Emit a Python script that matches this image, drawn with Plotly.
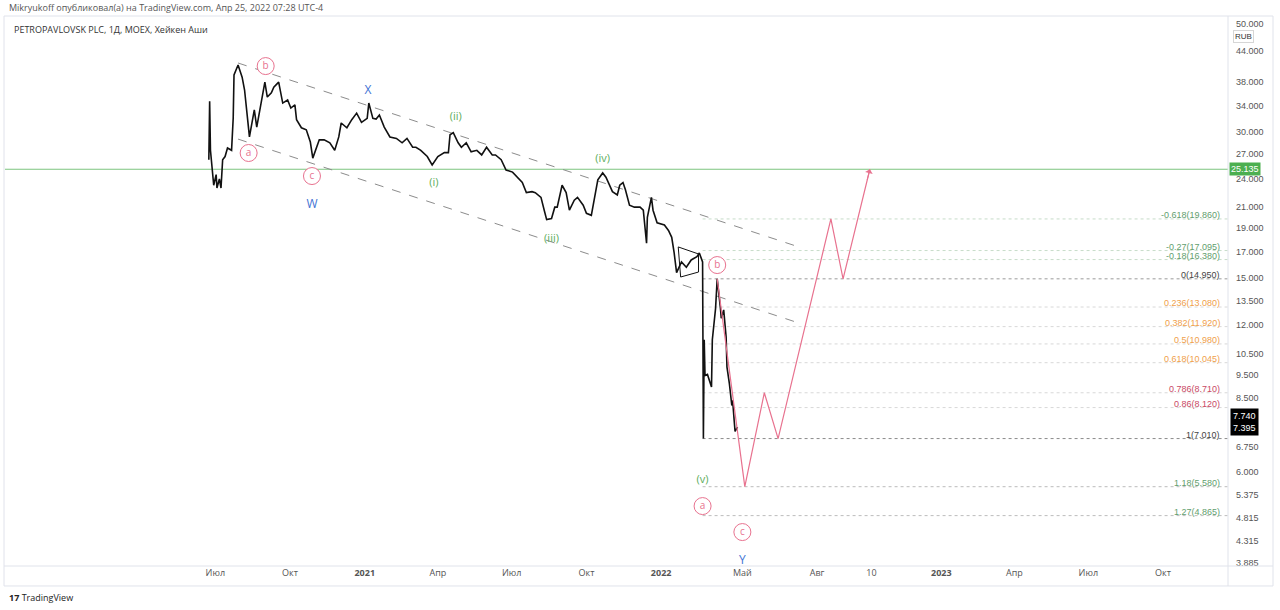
import math
import plotly.graph_objects as go

# ---------------- data ----------------
price_dates = [
    "2020-06-23", "2020-06-24", "2020-06-25", "2020-06-29", "2020-07-02", "2020-07-03", "2020-07-06",
    "2020-07-08", "2020-07-10", "2020-07-13", "2020-07-16", "2020-07-21", "2020-07-23", "2020-07-24",
    "2020-07-29", "2020-08-03", "2020-08-06", "2020-08-10", "2020-08-12", "2020-08-18", "2020-08-21",
    "2020-08-27", "2020-08-31", "2020-09-03", "2020-09-08", "2020-09-11", "2020-09-17", "2020-09-22",
    "2020-09-28", "2020-10-02", "2020-10-07", "2020-10-09", "2020-10-15", "2020-10-21", "2020-10-26",
    "2020-10-29", "2020-11-03", "2020-11-06", "2020-11-12", "2020-11-19", "2020-11-25", "2020-11-30",
    "2020-12-03", "2020-12-10", "2020-12-16", "2020-12-22", "2020-12-28", "2021-01-04", "2021-01-06",
    "2021-01-11", "2021-01-15", "2021-01-19", "2021-01-25", "2021-02-01", "2021-02-09", "2021-02-16",
    "2021-02-22", "2021-03-01", "2021-03-05", "2021-03-11", "2021-03-19", "2021-03-25", "2021-04-01",
    "2021-04-09", "2021-04-14", "2021-04-16", "2021-04-20", "2021-04-26", "2021-04-30", "2021-05-06",
    "2021-05-12", "2021-05-19", "2021-05-25", "2021-05-31", "2021-06-07", "2021-06-11", "2021-06-18",
    "2021-06-24", "2021-07-02", "2021-07-08", "2021-07-14", "2021-07-19", "2021-07-26", "2021-07-30",
    "2021-08-06", "2021-08-10", "2021-08-13", "2021-08-19", "2021-08-23", "2021-08-26", "2021-09-01",
    "2021-09-06", "2021-09-10", "2021-09-16", "2021-09-20", "2021-09-27", "2021-10-01", "2021-10-07",
    "2021-10-11", "2021-10-15", "2021-10-21", "2021-10-25", "2021-10-29", "2021-11-02", "2021-11-08",
    "2021-11-11", "2021-11-15", "2021-11-18", "2021-11-23", "2021-11-29", "2021-12-06", "2021-12-10",
    "2021-12-14", "2021-12-15", "2021-12-20", "2021-12-22", "2021-12-27", "2022-01-05", "2022-01-10",
    "2022-01-14", "2022-01-17", "2022-01-20", "2022-01-26", "2022-02-01", "2022-02-07", "2022-02-14",
    "2022-02-17", "2022-02-21", "2022-02-22", "2022-03-15", "2022-03-16", "2022-03-19", "2022-03-24",
    "2022-03-25", "2022-03-29", "2022-03-31", "2022-04-04", "2022-04-05", "2022-04-08", "2022-04-11",
    "2022-04-12", "2022-04-15", "2022-04-18", "2022-04-19", "2022-04-21", "2022-04-22", "2022-04-25",
]
price_close = [
    26.3, 34.7, 27.5, 23.3, 24.5, 23.0, 24.0,
    23.0, 26.3, 26.7, 27.8, 27.5, 32.0, 39.3,
    41.2, 38.9, 36.6, 32.0, 29.3, 33.3, 30.7,
    34.9, 38.0, 35.4, 36.1, 37.1, 38.0, 34.4,
    34.9, 33.6, 34.1, 31.8, 30.6, 30.3, 28.6,
    26.5, 27.9, 28.9, 28.9, 28.5, 27.5, 29.3,
    31.3, 30.6, 31.8, 32.8, 31.4, 32.0, 34.4,
    32.0, 31.9, 32.5, 30.7, 29.3, 29.1, 28.5,
    29.1, 27.9, 27.9, 27.5, 26.7, 25.65, 26.7,
    27.2, 27.2, 29.6, 29.9, 28.5, 27.9, 28.5,
    27.3, 27.5, 26.9, 27.9, 26.9, 26.9, 26.3,
    25.05, 24.8, 24.2, 23.6, 22.5, 22.6, 22.5,
    22.0, 20.7, 19.8, 19.9, 21.0, 21.0, 23.3,
    22.5, 20.7, 21.7, 22.0, 21.2, 20.4, 20.2,
    22.0, 23.9, 24.7, 24.2, 23.4, 22.6, 22.25,
    23.3, 23.6, 22.8, 21.2, 21.0, 21.0, 20.7,
    17.7, 20.0, 22.0, 20.7, 19.5, 19.3, 18.8,
    18.2, 16.9, 15.4, 16.2, 15.8, 16.35, 16.6,
    16.9, 16.2, 7.01, 11.2, 9.45, 9.5, 8.95,
    11.2, 13.0, 14.95, 13.0, 12.4, 12.9, 11.35,
    9.85, 9.1, 8.2, 8.4, 7.6, 7.25, 7.4,
]

# Fibonacci levels
fib_level_txt = ["-0.618", "-0.27", "-0.18", "0", "0.236", "0.382", "0.5", "0.618",
                 "0.786", "0.86", "1", "1.18", "1.27"]
fib_values = [19.86, 17.095, 16.38, 14.95, 13.08, 11.92, 10.98, 10.045, 8.71, 8.12, 7.01, 5.58, 4.865]
fib_start = "2022-02-21"
fib_end = "2023-12-20"

# channel (dashed)
chan_dates = ["2020-07-29", "2022-07-06"]
chan_upper = [41.6, 17.47]
chan_lower = [29.0, 12.18]

# projected path (pink)
proj_dates = ["2022-03-31", "2022-05-04", "2022-05-28", "2022-06-14", "2022-08-18", "2022-09-02", "2022-10-05"]
proj_vals = [14.95, 5.58, 8.71, 7.01, 19.86, 14.95, 25.135]

# horizontal level
level_line = 25.135

# triangle drawing
tri_dates = ["2022-01-22", "2022-02-16", "2022-02-16", "2022-01-25", "2022-01-22"]
tri_vals = [17.39, 16.82, 15.44, 15.08, 17.39]

# wave labels
circ_labels = ["a", "b", "c", "b", "a", "c"]
circ_dates = ["2020-08-11", "2020-09-01", "2020-10-28", "2022-03-31", "2022-02-21", "2022-05-01"]
circ_vals = [27.15, 41.0, 24.34, 15.96, 5.09, 4.50]

blue_labels = ["W", "X", "Y"]
blue_dates = ["2020-10-28", "2021-01-05", "2022-05-01"]
blue_vals = [21.2, 36.4, 3.92]

green_labels = ["(i)", "(ii)", "(iii)", "(iv)", "(v)"]
green_dates = ["2021-03-27", "2021-04-23", "2021-08-19", "2021-10-21", "2022-02-21"]
green_vals = [23.55, 32.2, 18.06, 26.39, 5.76]

last_prices = [7.740, 7.395]

y_ticks = [50, 44, 38, 34, 30, 27, 24, 21, 19, 17, 15, 13.5, 12, 10.5, 9.5, 8.5,
           6.75, 6.0, 5.375, 4.815, 4.315, 3.885]
x_tick_dates = ["2020-07-01", "2020-10-01", "2021-01-01", "2021-04-01", "2021-07-01", "2021-10-01",
                "2022-01-01", "2022-05-01", "2022-08-01", "2022-10-07", "2023-01-01", "2023-04-01",
                "2023-07-01", "2023-10-01"]
x_tick_text = ["Июл", "Окт", "<b>2021</b>", "Апр", "Июл", "Окт", "<b>2022</b>", "Май", "Авг", "10",
               "<b>2023</b>", "Апр", "Июл", "Окт"]

# ---------------- styling ----------------
FONT = "Open Sans"
AXF = "Liberation Sans, Arial, sans-serif"
PINK = "#e8728f"
BLUE = "#3f73d4"
GREEN = "#5cad5c"
x_range = ["2019-10-16", "2023-12-20"]
y_range = [math.log10(3.831), math.log10(51.74)]

fib_label_colors = ["#5f9e6e", "#5f9e6e", "#5f9e6e", "#444444", "#f0a04b", "#f0a04b", "#f0a04b",
                    "#f0a04b", "#c94a66", "#c94a66", "#444444", "#5f9e6e", "#5f9e6e"]
fib_line_colors = ["#c7dcc9", "#c7dcc9", "#c7dcc9", "#9a9a9a", "#d8d8d8", "#d8d8d8", "#d8d8d8",
                   "#d8d8d8", "#d8d8d8", "#d8d8d8", "#8a8a8a", "#bcbcbc", "#bcbcbc"]

fig = go.Figure()

fig.add_trace(go.Scatter(x=x_range, y=[level_line, level_line], mode="lines",
                         line=dict(color="#7cc47f", width=1.2), hoverinfo="skip"))

for val, lc in zip(fib_values, fib_line_colors):
    fig.add_trace(go.Scatter(x=[fib_start, fib_end], y=[val, val], mode="lines",
                             line=dict(color=lc, width=1, dash="dot"), hoverinfo="skip"))

fig.add_trace(go.Scatter(x=chan_dates, y=chan_upper, mode="lines",
                         line=dict(color="#8c8c8c", width=1, dash="dash"), hoverinfo="skip"))
fig.add_trace(go.Scatter(x=chan_dates, y=chan_lower, mode="lines",
                         line=dict(color="#8c8c8c", width=1, dash="dash"), hoverinfo="skip"))

fig.add_trace(go.Scatter(x=price_dates, y=price_close, mode="lines",
                         line=dict(color="#111111", width=1.6), hoverinfo="skip"))

fig.add_trace(go.Scatter(x=tri_dates, y=tri_vals, mode="lines",
                         line=dict(color="#111111", width=1), hoverinfo="skip"))

fig.add_trace(go.Scatter(x=proj_dates, y=proj_vals, mode="lines",
                         line=dict(color=PINK, width=1.2), hoverinfo="skip"))

fig.add_trace(go.Scatter(x=circ_dates, y=circ_vals, mode="markers+text", text=circ_labels,
                         textposition="middle center",
                         textfont=dict(family=FONT, size=10, color=PINK),
                         marker=dict(symbol="circle", size=17, color="white",
                                     line=dict(color=PINK, width=1)),
                         hoverinfo="skip"))
fig.add_trace(go.Scatter(x=blue_dates, y=blue_vals, mode="text", text=blue_labels,
                         textposition="middle center",
                         textfont=dict(family=FONT, size=12, color=BLUE), hoverinfo="skip"))
fig.add_trace(go.Scatter(x=green_dates, y=green_vals, mode="text", text=green_labels,
                         textposition="middle center",
                         textfont=dict(family=FONT, size=11, color=GREEN), hoverinfo="skip"))

annotations = []
for txt, val, col in zip(fib_level_txt, fib_values, fib_label_colors):
    annotations.append(dict(xref="paper", yref="y", x=0.9943, y=math.log10(val),
                            text=f"{txt}({val:.3f})", showarrow=False, xanchor="right",
                            yanchor="bottom", yshift=-2, borderpad=0,
                            font=dict(family=AXF, size=9, color=col)))
annotations.append(dict(x=proj_dates[-1], y=math.log10(proj_vals[-1]), xref="x", yref="y",
                        text="", showarrow=True, ax=-3, ay=12, arrowhead=1, arrowsize=1.3,
                        arrowwidth=1, arrowcolor=PINK))
annotations.append(dict(xref="paper", yref="y", x=1.0, y=math.log10(level_line), xanchor="left",
                        xshift=1, text=f"{level_line:.3f}", showarrow=False, bgcolor="#4caf50",
                        borderpad=1, font=dict(family=AXF, size=9, color="white")))
annotations.append(dict(xref="paper", yref="y", x=1.0, xanchor="left", xshift=2,
                        y=math.log10(math.sqrt(last_prices[0] * last_prices[1])),
                        text=f"{last_prices[0]:.3f}<br>{last_prices[1]:.3f}", showarrow=False,
                        bgcolor="#000000", borderpad=2,
                        font=dict(family=AXF, size=9, color="white")))
annotations.append(dict(xref="paper", yref="paper", x=1.0, xanchor="left", xshift=5, y=0.9763,
                        text="RUB", showarrow=False, bgcolor="white", bordercolor="#d6d6d6",
                        borderwidth=1, borderpad=1,
                        font=dict(family=AXF, size=8, color="#333333")))
annotations.append(dict(xref="paper", yref="paper", x=0.0016, y=1.0164, xanchor="left",
                        yanchor="middle", showarrow=False,
                        text="Mikryukoff опубликовал(а) на TradingView.com, Апр 25, 2022 07:28 UTC-4",
                        font=dict(family=FONT, size=9, color="#555555")))
annotations.append(dict(xref="paper", yref="paper", x=0.0057, y=0.978, xanchor="left",
                        yanchor="middle", showarrow=False,
                        text="PETROPAVLOVSK PLC, 1Д, MOEX, Хейкен Аши",
                        font=dict(family=FONT, size=9, color="#333333")))
annotations.append(dict(xref="paper", yref="paper", x=0.0016, y=-0.0565, xanchor="left",
                        yanchor="middle", showarrow=False,
                        text="<b>17</b> TradingView",
                        font=dict(family=FONT, size=9, color="#222222")))

shapes = [
    dict(type="rect", xref="paper", yref="paper", x0=-0.0008, x1=1.0368, y0=-0.0364, y1=1.0018,
         line=dict(color="#e0e3eb", width=1)),
    dict(type="line", xref="paper", yref="paper", x0=1.0, x1=1.0, y0=-0.0364, y1=1.0018,
         line=dict(color="#e0e3eb", width=1)),
    dict(type="line", xref="paper", yref="paper", x0=-0.0008, x1=1.0368, y0=0, y1=0,
         line=dict(color="#e0e3eb", width=1)),
]

fig.update_layout(
    width=1280, height=610,
    margin=dict(l=5, r=52, t=17, b=44),
    paper_bgcolor="white", plot_bgcolor="white",
    showlegend=False,
    font=dict(family=FONT, size=9, color="#555555"),
    annotations=annotations,
    shapes=shapes,
    xaxis=dict(type="date", range=x_range,
               rangebreaks=[dict(bounds=["2022-02-23", "2022-03-15"])],
               tickmode="array", tickvals=x_tick_dates, ticktext=x_tick_text,
               showgrid=False, zeroline=False, showline=False, ticks="",
               tickfont=dict(family=FONT, size=9, color="#555555")),
    yaxis=dict(type="log", range=y_range, side="right",
               tickmode="array", tickvals=y_ticks, ticktext=[f"{v:.3f}" for v in y_ticks],
               showgrid=False, zeroline=False, showline=False, ticks="",
               ticklabelstandoff=7,
               tickfont=dict(family=AXF, size=9, color="#555555")),
)

fig.write_html("out.html")
